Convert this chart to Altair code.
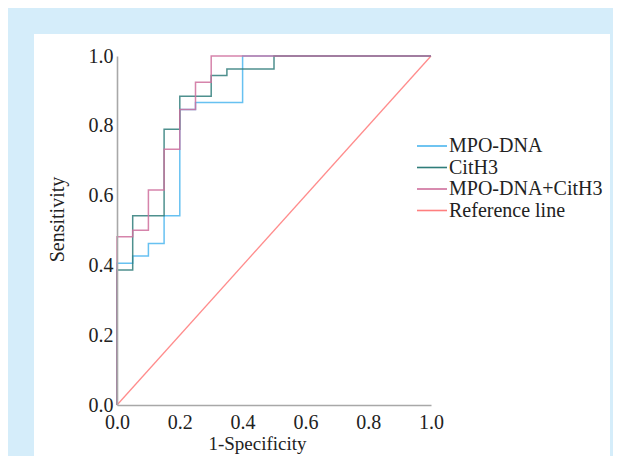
import altair as alt
import pandas as pd

# ---- data ----
mpo_fpr = [0.0, 0.0, 0.05, 0.10, 0.15, 0.20, 0.25, 0.40, 1.0]
mpo_tpr = [0.0, 0.406, 0.427, 0.463, 0.542, 0.847, 0.867, 1.0, 1.0]

cit_fpr = [0.0, 0.0, 0.05, 0.15, 0.20, 0.30, 0.35, 0.50, 1.0]
cit_tpr = [0.0, 0.387, 0.542, 0.790, 0.885, 0.944, 0.963, 1.0, 1.0]

comb_fpr = [0.0, 0.0, 0.05, 0.10, 0.15, 0.20, 0.25, 0.30, 1.0]
comb_tpr = [0.0, 0.482, 0.501, 0.616, 0.733, 0.847, 0.925, 1.0, 1.0]

ref_fpr = [0.0, 1.0]
ref_tpr = [0.0, 1.0]

series = ["MPO-DNA", "CitH3", "MPO-DNA+CitH3", "Reference line"]
colors = ["#4cb6ee", "#2f7d7a", "#cf6e9c", "#ff7f7f"]
ticks = [0.0, 0.2, 0.4, 0.6, 0.8, 1.0]

rows = []
for name, fx, ty in [
    (series[0], mpo_fpr, mpo_tpr),
    (series[1], cit_fpr, cit_tpr),
    (series[2], comb_fpr, comb_tpr),
]:
    for i, (a, b) in enumerate(zip(fx, ty)):
        rows.append({"series": name, "fpr": a, "tpr": b, "order": i})
df = pd.DataFrame(rows)
ref_df = pd.DataFrame({"series": series[3], "fpr": ref_fpr, "tpr": ref_tpr,
                       "order": list(range(len(ref_fpr)))})

FONT = "Liberation Serif"
FS = 20

panel = alt.Chart(pd.DataFrame({"a": [0]})).mark_rect(color="white").encode(
    x=alt.value(-83), x2=alt.value(493), y=alt.value(-22), y2=alt.value(420)
)

xscale = alt.Scale(domain=[0, 1], nice=False)
yscale = alt.Scale(domain=[0, 1], nice=False)
color = alt.Color(
    "series:N",
    scale=alt.Scale(domain=series, range=colors),
    sort=series,
    legend=alt.Legend(
        title=None,
        orient="none",
        legendX=305,
        legendY=80,
        symbolType="M-3,0H3",
        symbolSize=100,
        symbolStrokeWidth=1.6,
        symbolOpacity=1,
        rowPadding=1.5,
        labelOffset=7,
        labelFont=FONT,
        labelFontSize=FS,
        labelColor="#222222",
        padding=0,
    ),
)

x_enc = alt.X(
    "fpr:Q",
    scale=xscale,
    axis=alt.Axis(
        values=ticks, format=".1f", title="1-Specificity", grid=False,
        ticks=False, labelPadding=7, domainColor="#a8a8a8", domainWidth=1.6,
        labelFont=FONT, labelFontSize=FS, labelColor="#222222",
        titleFont=FONT, titleFontSize=19, titleFontWeight="normal",
        titleColor="#222222", titleX=140, titleY=44,
        titleBaseline="alphabetic", titleAlign="center",
        labelFlush=False, zindex=1,
    ),
)
y_enc = alt.Y(
    "tpr:Q",
    scale=yscale,
    axis=alt.Axis(
        values=ticks, format=".1f", title="Sensitivity", grid=False,
        ticks=False, labelPadding=4, domainColor="#a8a8a8", domainWidth=1.6,
        labelFont=FONT, labelFontSize=FS, labelColor="#222222",
        titleFont=FONT, titleFontSize=FS, titleFontWeight="normal",
        titleColor="#222222", titleX=-54, titleY=163,
        titleBaseline="alphabetic", titleAlign="center", titleAngle=270,
        labelFlush=False, zindex=1,
    ),
)

lines = alt.Chart(df).mark_line(
    interpolate="step-after", strokeWidth=1.5, opacity=0.85
).encode(
    x=x_enc, y=y_enc, color=color, order="order:Q", detail="series:N",
)

ref = alt.Chart(ref_df).mark_line(strokeWidth=1.3, opacity=0.9).encode(
    x="fpr:Q", y="tpr:Q", color=color, order="order:Q",
)

chart = (
    alt.layer(panel, ref, lines)
    .properties(
        width=314,
        height=349,
        autosize=alt.AutoSizeParams(type="none"),
        padding={"left": 109, "top": 48, "right": 182, "bottom": 51},
        background="#d5edfa",
    )
    .configure_view(stroke=None)
)

chart.save("out.html", embed_options={"renderer": "svg", "actions": False})
